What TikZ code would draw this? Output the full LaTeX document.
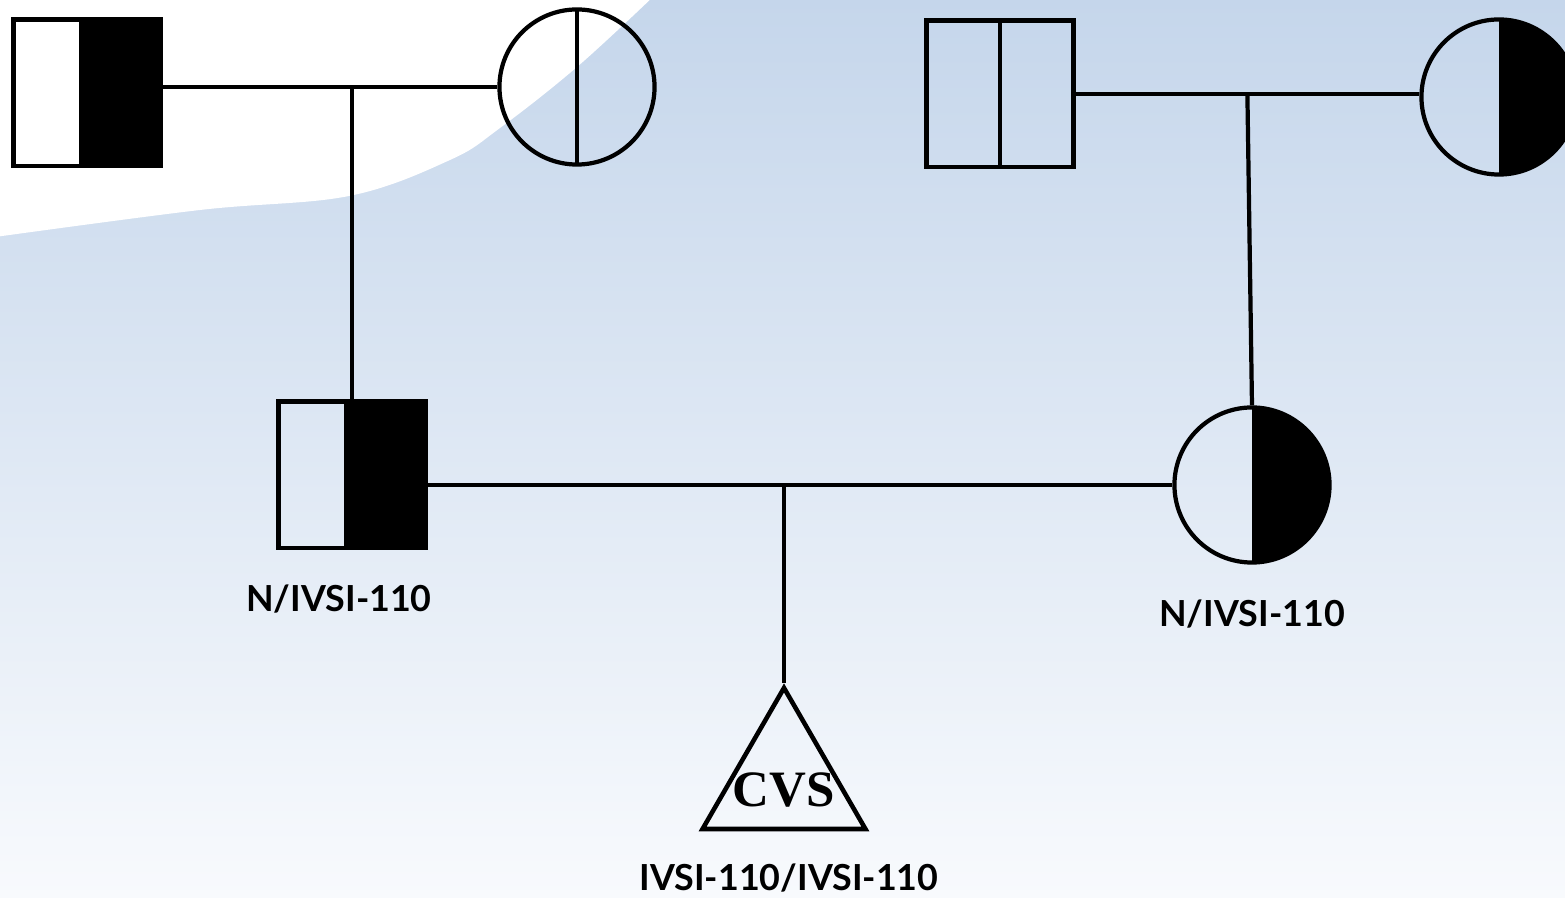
\documentclass[tikz,border=0pt]{standalone}
\usepackage{fontspec}
\newfontfamily\gtfont{Lato}
\newfontfamily\cvsfont{Liberation Serif}
\usetikzlibrary{calc, positioning, shapes.geometric}
\definecolor{bgtop}{RGB}{197,214,235}
\definecolor{bgbottom}{RGB}{248,250,253}

\tikzset{
  male/.style={draw, rectangle, line width=1.4pt, minimum size=1.46cm, inner sep=0pt},
  female/.style={draw, circle, line width=1.2pt, minimum size=1.55cm, inner sep=0pt},
  carrier/.style={path picture={\fill ([xshift=#1]path picture bounding box.north) rectangle (path picture bounding box.south east);}},
  carrier/.default=0cm,
  split/.style={path picture={\draw[line width=1.2pt] (path picture bounding box.north) -- (path picture bounding box.south);}},
  gtype/.style={font=\gtfont\bfseries\fontsize{10.2}{12}\selectfont, inner sep=0pt},
  link/.style={line width=1.2pt}
}

\begin{document}
\begin{tikzpicture}[x=0.01cm, y=-0.01cm]
    % background
    \useasboundingbox (0,0) rectangle (1565,898);
    \shade[top color=bgtop, bottom color=bgbottom] (0,0) rectangle (1565,898);
    \fill[white] plot[smooth, tension=0.6] coordinates {(-5,237) (200,210) (349,196) (450,160) (500,128) (577,67) (655,-5)} -- (-5,-5) -- cycle;

    % grandparents
    \node[male, carrier=-0.08cm] (pgf) at (87,93) {};
    \node[female, split] (pgm) at (577,87) {};
    \node[male, split] (mgf) at (1000,94) {};
    \node[female, carrier] (mgm) at (1499,97) {};

    % parents and fetus
    \node[male, carrier=-0.08cm] (dad) at (352,475) {};
    \node[female, carrier] (mum) at (1252,485) {};
    \node[draw, regular polygon, regular polygon sides=3, line width=1.3pt, minimum size=1.88cm, inner sep=0pt,
          label={[font=\cvsfont\bfseries\fontsize{14.5}{16}\selectfont, yshift=-0.08cm]center:CVS}] (cvs) at (784,782) {};

    % genotypes
    \node[gtype, below=0.34cm of dad, xshift=-0.13cm] (dadgt) {N/IVSI-110};
    \node[gtype, below=0.34cm of mum] (mumgt) {N/IVSI-110};
    \node[gtype, below=0.32cm of cvs, xshift=0.05cm] (cvsgt) {IVSI-110/IVSI-110};

    % mating and descent lines
    \draw[link] (pgf.east |- pgm.west) -- (pgm.west);
    \draw[link] (dad.north |- pgm.west) -- (dad.north);
    \draw[link] (mgf.east) -- (mgf.east -| mgm.west);
    \draw[link] ($(mgf.east)!0.5!(mgm.west)$) -- (mum.north);
    \draw[link] (dad.east |- mum.west) -- (mum.west);
    \draw[link] (cvs.north |- mum.west) -- (cvs.north);
\end{tikzpicture}
\end{document}
